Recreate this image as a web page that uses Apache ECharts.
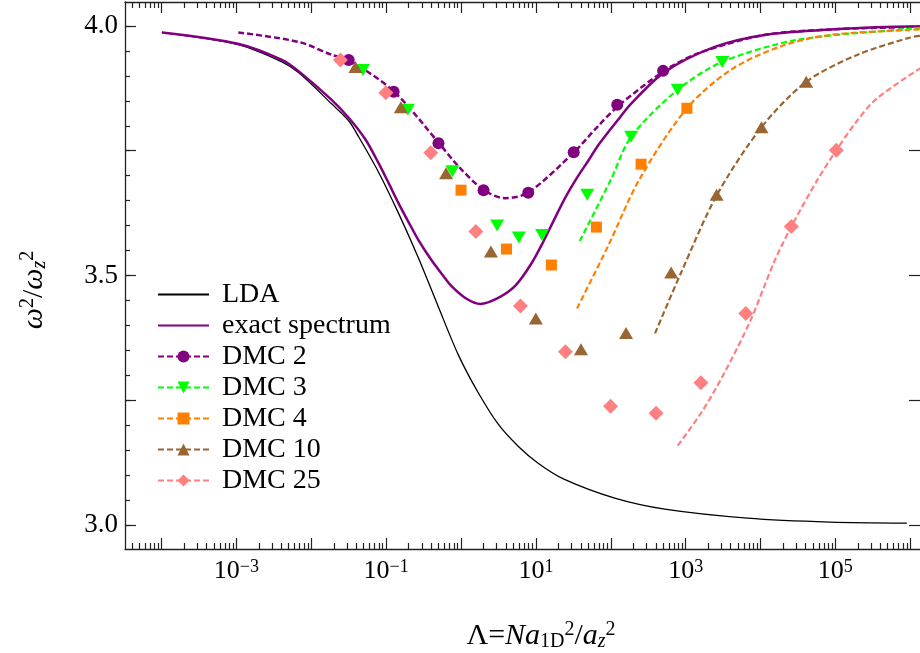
<!DOCTYPE html>
<html><head><meta charset="utf-8">
<script src="https://cdn.jsdelivr.net/npm/echarts@6/dist/echarts.min.js"></script>
<style>html,body{margin:0;padding:0;background:#fff}#c{width:920px;height:653px}</style>
</head><body><div id="c"></div>
<script>
// ---- axis ranges & tick labels ----
const X_MIN = 3.25e-5, X_MAX = 1.35e6;
const Y_MIN = 2.952, Y_MAX = 4.048;
const X_LABELS = [1e-3, 1e-1, 1e1, 1e3, 1e5];
const X_MAJOR = [1e-4, 1e-3, 1e-2, 1e-1, 1, 1e1, 1e2, 1e3, 1e4, 1e5, 1e6];
const Y_LABELS = [3.0, 3.5, 4.0];
const Y_MAJOR = [3.0, 3.25, 3.5, 3.75, 4.0];
const Y_MINOR = [2.95,3.0,3.05,3.1,3.15,3.2,3.25,3.3,3.35,3.4,3.45,3.5,3.55,3.6,3.65,3.7,3.75,3.8,3.85,3.9,3.95,4.0,4.05];

// ---- LDA ----
const ldaX = [1.01e-4, 1.08e-3, 4.05e-3, 6.82e-3, 0.0187, 0.0316, 0.0429, 0.0792, 0.146, 0.270, 0.499, 0.920, 1.70, 3.14, 5.79, 10.7, 23.7, 113, 525, 6680, 8.5e4, 9.0e5];
const ldaY = [3.987, 3.962, 3.928, 3.906, 3.844, 3.810, 3.778, 3.707, 3.625, 3.535, 3.437, 3.341, 3.265, 3.202, 3.158, 3.124, 3.092, 3.054, 3.032, 3.014, 3.006, 3.004];
// ---- exact spectrum ----
const exX = [1.01e-4, 1.08e-3, 4.05e-3, 6.82e-3, 0.0187, 0.0316, 0.0532, 0.0792, 0.108, 0.146, 0.199, 0.270, 0.402, 0.581, 0.741, 1.14, 1.81, 3.14, 5.28, 8.63, 12.5, 15.9, 24.5, 36.5, 49.6, 67.3, 125, 186, 528, 2450, 1.13e4, 8.6e4, 1e6, 1.35e6];
const exY = [3.987, 3.964, 3.932, 3.909, 3.852, 3.816, 3.772, 3.725, 3.685, 3.645, 3.607, 3.571, 3.531, 3.499, 3.479, 3.455, 3.443, 3.455, 3.479, 3.523, 3.567, 3.599, 3.655, 3.699, 3.729, 3.760, 3.812, 3.844, 3.908, 3.958, 3.982, 3.993, 3.999, 3.999];
// ---- DMC 2 ----
const d2X = [0.0316, 0.126, 0.50, 2.0, 7.9, 32, 122, 500];
const d2Y = [3.932, 3.868, 3.765, 3.671, 3.666, 3.747, 3.842, 3.910];
const d2fX = [1.06e-3, 6.82e-3, 0.0189, 0.0316, 0.128, 0.509, 0.92, 2.02, 3.85, 7.87, 32.3, 67.3, 131, 520, 1450, 1.12e4, 8.6e4, 1e6, 1.35e6];
const d2fY = [3.987, 3.968, 3.942, 3.932, 3.868, 3.765, 3.719, 3.671, 3.655, 3.666, 3.747, 3.799, 3.842, 3.910, 3.945, 3.982, 3.993, 3.998, 3.999];
// ---- DMC 3 ----
const d3X = [0.049, 0.195, 0.766, 3.04, 5.92, 12.1, 48.5, 187, 782, 3090];
const d3Y = [3.912, 3.832, 3.709, 3.600, 3.576, 3.581, 3.662, 3.778, 3.872, 3.928];
const d3fX = [38.5, 101, 187, 782, 3090, 3.1e4, 1.1e6, 1.35e6];
const d3fY = [3.569, 3.693, 3.778, 3.872, 3.928, 3.972, 3.995, 3.996];
// ---- DMC 4 ----
const d4X = [1.0, 4.05, 16.1, 64.3, 254, 1040];
const d4Y = [3.671, 3.553, 3.521, 3.597, 3.723, 3.835];
const d4fX = [35.4, 91.4, 242, 1040, 4010, 1.86e4, 8.5e4, 9.9e5, 1.35e6];
const d4fY = [3.434, 3.558, 3.693, 3.835, 3.912, 3.959, 3.982, 3.992, 3.993];
// ---- DMC 10 ----
const d10X = [0.0388, 0.157, 0.631, 2.51, 9.98, 40, 160, 641, 2590, 1.03e4, 4.08e4];
const d10Y = [3.918, 3.837, 3.705, 3.548, 3.414, 3.352, 3.385, 3.506, 3.662, 3.797, 3.888];
const d10fX = [390, 865, 2610, 1.03e4, 4.08e4, 1.95e5, 1e6, 1.35e6];
const d10fY = [3.384, 3.505, 3.661, 3.797, 3.888, 3.942, 3.977, 3.980];
// ---- DMC 25 ----
const d25X = [0.0245, 0.0991, 0.394, 1.58, 6.22, 24.8, 99.3, 403, 1600, 6350, 2.58e4, 1.03e5];
const d25Y = [3.932, 3.866, 3.746, 3.588, 3.439, 3.347, 3.238, 3.224, 3.285, 3.424, 3.598, 3.751];
const d25fX = [782, 1600, 3270, 7350, 1.52e4, 2.58e4, 5.73e4, 1.03e5, 1.95e5, 3.6e5, 1.35e6];
const d25fY = [3.159, 3.224, 3.304, 3.410, 3.527, 3.598, 3.691, 3.751, 3.810, 3.855, 3.915];

const zip = (xs, ys) => xs.map((x, i) => [x, ys[i]]);
const X_MINOR = [];
for (let e = -5; e <= 6; e++) for (let k = 2; k <= 9; k++) X_MINOR.push(k * Math.pow(10, e));

const FONT = '"Liberation Serif", "DejaVu Serif", serif';
const AXC = '#222';
const PURPLE = '#800080', GREEN = '#00ff00', ORANGE = '#ff8000', BROWN = '#996633', PINK = '#ff8080';
const SMOOTH = 0.3;

function xAxisDef(pos, ticks, len, showLine, labels) {
  return {
    type: 'log', min: X_MIN, max: X_MAX, position: pos, gridIndex: 0,
    axisLine: { show: showLine, lineStyle: { color: AXC, width: 1.3 } },
    axisTick: { show: true, inside: true, length: len, customValues: ticks, lineStyle: { color: AXC, width: 1.2 } },
    axisLabel: labels ? {
      show: true, customValues: X_LABELS, margin: 9,
      formatter: v => { const e = Math.round(Math.log10(v)); return '{b|10}{s|' + (e < 0 ? '\u2212' + (-e) : e) + '}'; },
      rich: { b: { fontFamily: FONT, fontSize: 26, color: '#000', lineHeight: 27 },
              s: { fontFamily: FONT, fontSize: 18, color: '#000', verticalAlign: 'top', lineHeight: 18 } }
    } : { show: false },
    splitLine: { show: false }, minorTick: { show: false }
  };
}
function yAxisDef(pos, ticks, len, showLine, labels) {
  return {
    type: 'value', min: Y_MIN, max: Y_MAX, position: pos, gridIndex: 0,
    axisLine: { show: showLine, lineStyle: { color: AXC, width: 1.3 } },
    axisTick: { show: true, inside: true, length: len, customValues: ticks, lineStyle: { color: AXC, width: 1.2 } },
    axisLabel: labels ? { show: true, customValues: Y_LABELS, margin: 7, fontFamily: FONT, fontSize: 27, color: '#000',
      formatter: v => v.toFixed(1) } : { show: false },
    splitLine: { show: false }
  };
}

function fitLine(name, xs, ys, color, symbol, size, rot, width) {
  return { name, type: 'line', data: zip(xs, ys), xAxisIndex: 0, yAxisIndex: 0,
    symbol, symbolSize: size, symbolRotate: rot || 0, showSymbol: false, smooth: SMOOTH,
    lineStyle: { color, width: width || 2.2, type: [6, 3] }, itemStyle: { color }, z: 3 };
}
function markers(name, xs, ys, color, symbol, size, rot) {
  return { name, type: 'scatter', data: zip(xs, ys), xAxisIndex: 0, yAxisIndex: 0,
    symbol, symbolSize: size, symbolRotate: rot || 0, itemStyle: { color, opacity: 1 }, z: 5 };
}

const chart = echarts.init(document.getElementById('c'), null, { renderer: 'canvas' });
chart.setOption({
  animation: false,
  backgroundColor: '#fff',
  grid: { left: 125, top: 2, width: 798, height: 547 },
  xAxis: [
    xAxisDef('bottom', X_MAJOR, 11, true, true),
    xAxisDef('bottom', X_MINOR, 6, false, false),
    xAxisDef('top', X_MAJOR, 11, true, false),
    xAxisDef('top', X_MINOR, 6, false, false)
  ],
  yAxis: [
    yAxisDef('left', Y_MAJOR, 11, true, true),
    yAxisDef('left', Y_MINOR, 5, false, false),
    yAxisDef('right', Y_MAJOR, 11, false, false)
  ],
  legend: {
    orient: 'vertical', left: 157, top: 279, padding: 0, itemGap: 0,
    itemWidth: 51, itemHeight: 15,
    textStyle: { fontFamily: FONT, fontSize: 28, color: '#000', lineHeight: 31, padding: [0, 0, 0, 8] },
    data: [
      { name: 'LDA', itemStyle: { opacity: 0 } },
      { name: 'exact spectrum', itemStyle: { opacity: 0 } },
      'DMC 2', 'DMC 3', 'DMC 4', 'DMC 10', 'DMC 25'
    ]
  },
  series: [
    { name: 'LDA', type: 'line', data: zip(ldaX, ldaY), symbol: 'none', smooth: SMOOTH,
      lineStyle: { color: '#000', width: 1.3 }, itemStyle: { color: '#000' }, z: 2 },
    { name: 'exact spectrum', type: 'line', data: zip(exX, exY), symbol: 'none', smooth: SMOOTH,
      lineStyle: { color: PURPLE, width: 2.5 }, itemStyle: { color: PURPLE }, z: 2 },
    fitLine('DMC 2', d2fX, d2fY, PURPLE, 'circle', 12, 0, 2.5),
    fitLine('DMC 3', d3fX, d3fY, GREEN, 'triangle', [14, 12], 180),
    fitLine('DMC 4', d4fX, d4fY, ORANGE, 'rect', 11),
    fitLine('DMC 10', d10fX, d10fY, BROWN, 'triangle', [14, 12]),
    fitLine('DMC 25', d25fX, d25fY, PINK, 'diamond', 15),
    markers('DMC 2', d2X, d2Y, PURPLE, 'circle', 12),
    markers('DMC 3', d3X, d3Y, GREEN, 'triangle', [14, 12], 180),
    markers('DMC 4', d4X, d4Y, ORANGE, 'rect', 11),
    markers('DMC 10', d10X, d10Y, BROWN, 'triangle', [14, 12]),
    markers('DMC 25', d25X, d25Y, PINK, 'diamond', 15)
  ],
  graphic: [
    { type: 'text', x: 541, y: 636, silent: true,
      style: { text: '{r|\u039B=}{i|Na}{sub|1D}{sup|2}{r|/}{i|a}{subi|z}{sup|2}', align: 'center', verticalAlign: 'middle',
        rich: {
          r: { fontFamily: FONT, fontSize: 30, fill: '#000', lineHeight: 32 },
          i: { fontFamily: FONT, fontSize: 30, fontStyle: 'italic', fill: '#000', lineHeight: 32 },
          sub: { fontFamily: FONT, fontSize: 20, fill: '#000', verticalAlign: 'bottom', lineHeight: 14 },
          subi: { fontFamily: FONT, fontSize: 20, fontStyle: 'italic', fill: '#000', verticalAlign: 'bottom', lineHeight: 14 },
          sup: { fontFamily: FONT, fontSize: 20, fill: '#000', verticalAlign: 'top', lineHeight: 20 }
        } } },
    { type: 'text', x: 34, y: 290, rotation: Math.PI / 2, silent: true,
      style: { text: '{i|\u03C9}{sup|2}{r|/}{i|\u03C9}{subi|z}{sup|2}', align: 'center', verticalAlign: 'middle',
        rich: {
          r: { fontFamily: FONT, fontSize: 30, fill: '#000', lineHeight: 32 },
          i: { fontFamily: FONT, fontSize: 30, fontStyle: 'italic', fill: '#000', lineHeight: 32 },
          subi: { fontFamily: FONT, fontSize: 20, fontStyle: 'italic', fill: '#000', verticalAlign: 'bottom', lineHeight: 14 },
          sup: { fontFamily: FONT, fontSize: 20, fill: '#000', verticalAlign: 'top', lineHeight: 20 }
        } } }
  ]
});
</script></body></html>
